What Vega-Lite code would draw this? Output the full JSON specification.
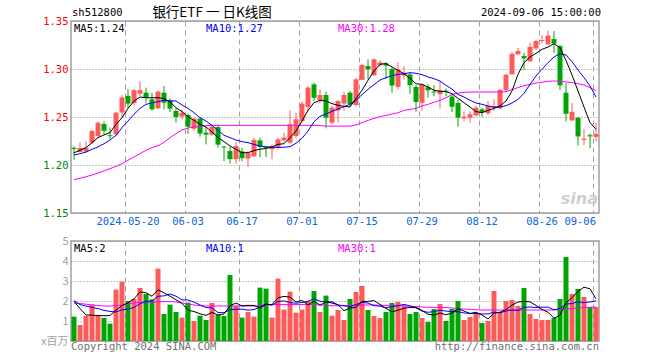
{
"$schema": "https://vega.github.io/schema/vega-lite/v6.json",
"background": "white",
"padding": {"left": 39, "top": 5, "right": 5, "bottom": 2},
"spacing": 28,
"bounds": "flush",
"config": {
 "view": {"stroke": "#a0a0a0", "strokeWidth": 1.5},
 "axis": {"domain": false, "ticks": false, "title": null, "labelFont": "DejaVu Sans Mono", "labelFontSize": 10.5, "gridColor": "#a0a0a0", "gridWidth": 1, "labelOverlap": false},
 "text": {"font": "DejaVu Sans Mono", "fontSize": 10.5}
},
"datasets": {"k": [
{"d":"2024-05-07","o":1.2178,"h":1.2195,"l":1.2055,"c":1.2166,"m5":1.2128,"m10":1.2104,"m30":1.1847,"v":1.22,"v5":1.98,"v10":2.02,"v30":1.90},
{"d":"2024-05-08","o":1.2135,"h":1.2236,"l":1.2132,"c":1.2177,"m5":1.2153,"m10":1.2118,"m30":1.1861,"v":0.80,"v5":1.62,"v10":1.82,"v30":1.87},
{"d":"2024-05-09","o":1.2140,"h":1.2245,"l":1.2125,"c":1.2178,"m5":1.2181,"m10":1.2135,"m30":1.1878,"v":1.25,"v5":1.30,"v10":1.75,"v30":1.84},
{"d":"2024-05-10","o":1.2233,"h":1.2365,"l":1.2218,"c":1.2354,"m5":1.2233,"m10":1.2163,"m30":1.1896,"v":1.83,"v5":1.29,"v10":1.68,"v30":1.80},
{"d":"2024-05-13","o":1.2302,"h":1.2452,"l":1.2283,"c":1.2440,"m5":1.2285,"m10":1.2188,"m30":1.1917,"v":1.28,"v5":1.276,"v10":1.62,"v30":1.77},
{"d":"2024-05-14","o":1.2427,"h":1.2455,"l":1.2316,"c":1.2356,"m5":1.2313,"m10":1.2222,"m30":1.1938,"v":1.15,"v5":1.262,"v10":1.53,"v30":1.75},
{"d":"2024-05-15","o":1.2310,"h":1.2390,"l":1.2270,"c":1.2300,"m5":1.2337,"m10":1.2260,"m30":1.1962,"v":0.87,"v5":1.276,"v10":1.48,"v30":1.75},
{"d":"2024-05-16","o":1.2320,"h":1.2556,"l":1.2306,"c":1.2545,"m5":1.2424,"m10":1.2309,"m30":1.1986,"v":2.57,"v5":1.54,"v10":1.45,"v30":1.77},
{"d":"2024-05-17","o":1.2547,"h":1.2730,"l":1.2497,"c":1.2703,"m5":1.2493,"m10":1.2389,"m30":1.2014,"v":2.97,"v5":1.768,"v10":1.56,"v30":1.80},
{"d":"2024-05-20","o":1.2720,"h":1.2790,"l":1.2590,"c":1.2640,"m5":1.2590,"m10":1.2458,"m30":1.2049,"v":2.00,"v5":1.912,"v10":1.594,"v30":1.85},
{"d":"2024-05-21","o":1.2645,"h":1.2790,"l":1.2620,"c":1.2780,"m5":1.2667,"m10":1.2528,"m30":1.2083,"v":2.10,"v5":2.102,"v10":1.682,"v30":1.90},
{"d":"2024-05-22","o":1.2743,"h":1.2875,"l":1.2720,"c":1.2781,"m5":1.2708,"m10":1.2590,"m30":1.2118,"v":2.65,"v5":2.458,"v10":1.867,"v30":1.93},
{"d":"2024-05-23","o":1.2753,"h":1.2806,"l":1.2649,"c":1.2701,"m5":1.2701,"m10":1.2632,"m30":1.2153,"v":2.35,"v5":2.414,"v10":1.977,"v30":1.94},
{"d":"2024-05-24","o":1.2684,"h":1.2753,"l":1.2565,"c":1.2580,"m5":1.2701,"m10":1.2646,"m30":1.2181,"v":2.08,"v5":2.236,"v10":2.002,"v30":1.95},
{"d":"2024-05-27","o":1.2590,"h":1.2780,"l":1.2580,"c":1.2764,"m5":1.2701,"m10":1.2660,"m30":1.2201,"v":3.62,"v5":2.56,"v10":2.236,"v30":1.96},
{"d":"2024-05-28","o":1.2753,"h":1.2823,"l":1.2580,"c":1.2649,"m5":1.2691,"m10":1.2674,"m30":1.2236,"v":1.35,"v5":2.41,"v10":2.256,"v30":1.97},
{"d":"2024-05-29","o":1.2674,"h":1.2694,"l":1.2552,"c":1.2587,"m5":1.2656,"m10":1.2667,"m30":1.2285,"v":1.82,"v5":2.244,"v10":2.351,"v30":1.97},
{"d":"2024-05-30","o":1.2563,"h":1.2590,"l":1.2441,"c":1.2500,"m5":1.2597,"m10":1.2667,"m30":1.2326,"v":1.45,"v5":2.064,"v10":2.239,"v30":1.95},
{"d":"2024-05-31","o":1.2505,"h":1.2580,"l":1.2476,"c":1.2545,"m5":1.2556,"m10":1.2625,"m30":1.2365,"v":1.17,"v5":1.882,"v10":2.059,"v30":1.90},
{"d":"2024-06-03","o":1.2521,"h":1.2535,"l":1.2326,"c":1.2398,"m5":1.2503,"m10":1.2590,"m30":1.2385,"v":1.92,"v5":1.542,"v10":2.051,"v30":1.86},
{"d":"2024-06-04","o":1.2378,"h":1.2493,"l":1.2354,"c":1.2483,"m5":1.2465,"m10":1.2545,"m30":1.2396,"v":1.00,"v5":1.472,"v10":1.941,"v30":1.80},
{"d":"2024-06-05","o":1.2483,"h":1.2493,"l":1.2295,"c":1.2328,"m5":1.2424,"m10":1.2493,"m30":1.2403,"v":1.27,"v5":1.362,"v10":1.803,"v30":1.77},
{"d":"2024-06-06","o":1.2337,"h":1.2396,"l":1.2215,"c":1.2316,"m5":1.2396,"m10":1.2458,"m30":1.2410,"v":1.05,"v5":1.282,"v10":1.673,"v30":1.75},
{"d":"2024-06-07","o":1.2316,"h":1.2420,"l":1.2305,"c":1.2398,"m5":1.2344,"m10":1.2413,"m30":1.2413,"v":1.90,"v5":1.428,"v10":1.655,"v30":1.75},
{"d":"2024-06-11","o":1.2395,"h":1.2420,"l":1.2181,"c":1.2212,"m5":1.2285,"m10":1.2361,"m30":1.2413,"v":1.30,"v5":1.304,"v10":1.423,"v30":1.75},
{"d":"2024-06-12","o":1.2192,"h":1.2198,"l":1.2042,"c":1.2182,"m5":1.2243,"m10":1.2309,"m30":1.2413,"v":1.25,"v5":1.354,"v10":1.413,"v30":1.75},
{"d":"2024-06-13","o":1.2146,"h":1.2188,"l":1.2014,"c":1.2062,"m5":1.2198,"m10":1.2285,"m30":1.2413,"v":3.30,"v5":1.76,"v10":1.561,"v30":1.75},
{"d":"2024-06-14","o":1.2062,"h":1.2240,"l":1.2014,"c":1.2198,"m5":1.2163,"m10":1.2260,"m30":1.2413,"v":1.75,"v5":1.90,"v10":1.591,"v30":1.75},
{"d":"2024-06-17","o":1.2142,"h":1.2180,"l":1.2040,"c":1.2072,"m5":1.2128,"m10":1.2243,"m30":1.2413,"v":1.17,"v5":1.754,"v10":1.591,"v30":1.75},
{"d":"2024-06-18","o":1.2068,"h":1.2146,"l":1.1980,"c":1.2122,"m5":1.2128,"m10":1.2233,"m30":1.2413,"v":1.45,"v5":1.784,"v10":1.544,"v30":1.75},
{"d":"2024-06-19","o":1.2092,"h":1.2285,"l":1.2080,"c":1.2262,"m5":1.2150,"m10":1.2215,"m30":1.2413,"v":1.22,"v5":1.778,"v10":1.566,"v30":1.75},
{"d":"2024-06-20","o":1.2257,"h":1.2285,"l":1.2083,"c":1.2188,"m5":1.2165,"m10":1.2198,"m30":1.2413,"v":2.67,"v5":1.652,"v10":1.706,"v30":1.75},
{"d":"2024-06-21","o":1.2186,"h":1.2198,"l":1.2083,"c":1.2176,"m5":1.2172,"m10":1.2190,"m30":1.2413,"v":2.62,"v5":1.826,"v10":1.863,"v30":1.78},
{"d":"2024-06-24","o":1.2163,"h":1.2215,"l":1.2059,"c":1.2198,"m5":1.2188,"m10":1.2185,"m30":1.2413,"v":1.17,"v5":1.826,"v10":1.79,"v30":1.82},
{"d":"2024-06-25","o":1.2188,"h":1.2285,"l":1.2163,"c":1.2267,"m5":1.2215,"m10":1.2183,"m30":1.2413,"v":3.12,"v5":2.16,"v10":1.972,"v30":1.82},
{"d":"2024-06-26","o":1.2257,"h":1.2337,"l":1.2233,"c":1.2285,"m5":1.2222,"m10":1.2185,"m30":1.2413,"v":1.57,"v5":2.23,"v10":2.004,"v30":1.82},
{"d":"2024-06-27","o":1.2233,"h":1.2569,"l":1.2222,"c":1.2424,"m5":1.2285,"m10":1.2191,"m30":1.2413,"v":2.47,"v5":2.19,"v10":1.921,"v30":1.82},
{"d":"2024-06-28","o":1.2302,"h":1.2545,"l":1.2278,"c":1.2476,"m5":1.2354,"m10":1.2226,"m30":1.2413,"v":1.42,"v5":1.95,"v10":1.888,"v30":1.82},
{"d":"2024-07-01","o":1.2458,"h":1.2660,"l":1.2441,"c":1.2639,"m5":1.2458,"m10":1.2278,"m30":1.2413,"v":1.57,"v5":2.03,"v10":1.928,"v30":1.82},
{"d":"2024-07-02","o":1.2604,"h":1.2823,"l":1.2563,"c":1.2806,"m5":1.2569,"m10":1.2354,"m30":1.2413,"v":2.00,"v5":1.806,"v10":1.983,"v30":1.82},
{"d":"2024-07-03","o":1.2840,"h":1.2858,"l":1.2667,"c":1.2701,"m5":1.2649,"m10":1.2451,"m30":1.2413,"v":2.50,"v5":1.992,"v10":2.111,"v30":1.82},
{"d":"2024-07-04","o":1.2674,"h":1.2788,"l":1.2649,"c":1.2729,"m5":1.2674,"m10":1.2507,"m30":1.2410,"v":1.45,"v5":1.788,"v10":1.989,"v30":1.80},
{"d":"2024-07-05","o":1.2729,"h":1.2760,"l":1.2382,"c":1.2493,"m5":1.2667,"m10":1.2531,"m30":1.2405,"v":2.27,"v5":1.958,"v10":1.954,"v30":1.78},
{"d":"2024-07-08","o":1.2441,"h":1.2615,"l":1.2424,"c":1.2597,"m5":1.2639,"m10":1.2559,"m30":1.2405,"v":1.27,"v5":1.898,"v10":1.964,"v30":1.76},
{"d":"2024-07-09","o":1.2569,"h":1.2674,"l":1.2441,"c":1.2667,"m5":1.2622,"m10":1.2583,"m30":1.2405,"v":1.55,"v5":1.808,"v10":1.807,"v30":1.76},
{"d":"2024-07-10","o":1.2640,"h":1.2764,"l":1.2563,"c":1.2729,"m5":1.2611,"m10":1.2608,"m30":1.2405,"v":1.05,"v5":1.518,"v10":1.755,"v30":1.77},
{"d":"2024-07-11","o":1.2753,"h":1.2771,"l":1.2604,"c":1.2636,"m5":1.2604,"m10":1.2632,"m30":1.2405,"v":2.10,"v5":1.648,"v10":1.718,"v30":1.78},
{"d":"2024-07-12","o":1.2625,"h":1.2910,"l":1.2615,"c":1.2892,"m5":1.2694,"m10":1.2674,"m30":1.2417,"v":2.45,"v5":1.684,"v10":1.821,"v30":1.79},
{"d":"2024-07-15","o":1.2887,"h":1.3056,"l":1.2882,"c":1.3042,"m5":1.2778,"m10":1.2733,"m30":1.2441,"v":2.75,"v5":1.98,"v10":1.939,"v30":1.80},
{"d":"2024-07-16","o":1.3031,"h":1.3100,"l":1.2892,"c":1.2997,"m5":1.2882,"m10":1.2788,"m30":1.2465,"v":1.55,"v5":1.98,"v10":1.894,"v30":1.80},
{"d":"2024-07-17","o":1.2935,"h":1.3110,"l":1.2927,"c":1.3101,"m5":1.2979,"m10":1.2837,"m30":1.2486,"v":1.25,"v5":2.02,"v10":1.769,"v30":1.80},
{"d":"2024-07-18","o":1.3040,"h":1.3090,"l":1.3021,"c":1.3068,"m5":1.3049,"m10":1.2885,"m30":1.2503,"v":1.15,"v5":1.83,"v10":1.739,"v30":1.79},
{"d":"2024-07-19","o":1.3059,"h":1.3070,"l":1.2895,"c":1.3035,"m5":1.3056,"m10":1.2910,"m30":1.2517,"v":1.45,"v5":1.63,"v10":1.657,"v30":1.78},
{"d":"2024-07-22","o":1.3000,"h":1.3014,"l":1.2753,"c":1.2828,"m5":1.3021,"m10":1.2931,"m30":1.2531,"v":1.90,"v5":1.46,"v10":1.72,"v30":1.78},
{"d":"2024-07-23","o":1.2813,"h":1.3070,"l":1.2790,"c":1.2997,"m5":1.2986,"m10":1.2944,"m30":1.2545,"v":1.95,"v5":1.54,"v10":1.76,"v30":1.78},
{"d":"2024-07-24","o":1.2932,"h":1.3030,"l":1.2890,"c":1.2960,"m5":1.2951,"m10":1.2951,"m30":1.2569,"v":1.75,"v5":1.64,"v10":1.83,"v30":1.76},
{"d":"2024-07-25","o":1.2944,"h":1.2962,"l":1.2740,"c":1.2833,"m5":1.2903,"m10":1.2962,"m30":1.2580,"v":1.35,"v5":1.68,"v10":1.755,"v30":1.74},
{"d":"2024-07-26","o":1.2813,"h":1.2833,"l":1.2554,"c":1.2656,"m5":1.2847,"m10":1.2955,"m30":1.2590,"v":1.45,"v5":1.68,"v10":1.655,"v30":1.72},
{"d":"2024-07-29","o":1.2649,"h":1.2847,"l":1.2565,"c":1.2836,"m5":1.2840,"m10":1.2941,"m30":1.2615,"v":1.15,"v5":1.53,"v10":1.495,"v30":1.70},
{"d":"2024-07-30","o":1.2810,"h":1.2840,"l":1.2700,"c":1.2778,"m5":1.2813,"m10":1.2917,"m30":1.2632,"v":0.95,"v5":1.33,"v10":1.435,"v30":1.69},
{"d":"2024-07-31","o":1.2765,"h":1.2830,"l":1.2715,"c":1.2755,"m5":1.2778,"m10":1.2899,"m30":1.2653,"v":1.60,"v5":1.30,"v10":1.47,"v30":1.68},
{"d":"2024-08-01","o":1.2738,"h":1.2875,"l":1.2587,"c":1.2778,"m5":1.2768,"m10":1.2875,"m30":1.2674,"v":1.85,"v5":1.40,"v10":1.54,"v30":1.67},
{"d":"2024-08-02","o":1.2775,"h":1.2797,"l":1.2715,"c":1.2765,"m5":1.2764,"m10":1.2830,"m30":1.2700,"v":1.00,"v5":1.31,"v10":1.495,"v30":1.67},
{"d":"2024-08-05","o":1.2712,"h":1.2736,"l":1.2552,"c":1.2606,"m5":1.2743,"m10":1.2790,"m30":1.2735,"v":1.60,"v5":1.40,"v10":1.465,"v30":1.65},
{"d":"2024-08-06","o":1.2646,"h":1.2677,"l":1.2399,"c":1.2493,"m5":1.2694,"m10":1.2736,"m30":1.2750,"v":2.00,"v5":1.61,"v10":1.47,"v30":1.62},
{"d":"2024-08-07","o":1.2485,"h":1.2560,"l":1.2455,"c":1.2503,"m5":1.2649,"m10":1.2708,"m30":1.2757,"v":1.05,"v5":1.50,"v10":1.40,"v30":1.60},
{"d":"2024-08-08","o":1.2493,"h":1.2560,"l":1.2440,"c":1.2528,"m5":1.2604,"m10":1.2674,"m30":1.2760,"v":1.20,"v5":1.37,"v10":1.385,"v30":1.58},
{"d":"2024-08-09","o":1.2517,"h":1.2615,"l":1.2505,"c":1.2597,"m5":1.2556,"m10":1.2646,"m30":1.2760,"v":1.35,"v5":1.44,"v10":1.375,"v30":1.56},
{"d":"2024-08-12","o":1.2580,"h":1.2597,"l":1.2500,"c":1.2552,"m5":1.2545,"m10":1.2632,"m30":1.2760,"v":0.90,"v5":1.30,"v10":1.35,"v30":1.55},
{"d":"2024-08-13","o":1.2540,"h":1.2667,"l":1.2520,"c":1.2615,"m5":1.2569,"m10":1.2615,"m30":1.2760,"v":1.00,"v5":1.10,"v10":1.355,"v30":1.55},
{"d":"2024-08-14","o":1.2592,"h":1.2684,"l":1.2563,"c":1.2612,"m5":1.2590,"m10":1.2604,"m30":1.2760,"v":2.50,"v5":1.39,"v10":1.445,"v30":1.55},
{"d":"2024-08-15","o":1.2590,"h":1.2790,"l":1.2580,"c":1.2783,"m5":1.2615,"m10":1.2604,"m30":1.2760,"v":1.45,"v5":1.44,"v10":1.405,"v30":1.55},
{"d":"2024-08-16","o":1.2780,"h":1.2955,"l":1.2770,"c":1.2940,"m5":1.2667,"m10":1.2618,"m30":1.2764,"v":2.00,"v5":1.57,"v10":1.505,"v30":1.55},
{"d":"2024-08-19","o":1.2944,"h":1.3175,"l":1.2944,"c":1.3158,"m5":1.2771,"m10":1.2646,"m30":1.2785,"v":2.05,"v5":1.80,"v10":1.55,"v30":1.55},
{"d":"2024-08-20","o":1.3153,"h":1.3220,"l":1.3143,"c":1.3188,"m5":1.2944,"m10":1.2684,"m30":1.2806,"v":1.75,"v5":1.95,"v10":1.525,"v30":1.55},
{"d":"2024-08-21","o":1.3135,"h":1.3170,"l":1.2990,"c":1.3110,"m5":1.3066,"m10":1.2747,"m30":1.2826,"v":2.65,"v5":1.98,"v10":1.685,"v30":1.55},
{"d":"2024-08-22","o":1.3080,"h":1.3274,"l":1.3073,"c":1.3231,"m5":1.3125,"m10":1.2840,"m30":1.2840,"v":1.35,"v5":1.96,"v10":1.70,"v30":1.55},
{"d":"2024-08-23","o":1.3214,"h":1.3305,"l":1.3200,"c":1.3292,"m5":1.3163,"m10":1.2927,"m30":1.2854,"v":1.10,"v5":1.78,"v10":1.675,"v30":1.55},
{"d":"2024-08-26","o":1.3292,"h":1.3351,"l":1.3267,"c":1.3302,"m5":1.3205,"m10":1.2997,"m30":1.2861,"v":1.05,"v5":1.58,"v10":1.69,"v30":1.55},
{"d":"2024-08-27","o":1.3257,"h":1.3400,"l":1.3250,"c":1.3348,"m5":1.3229,"m10":1.3066,"m30":1.2872,"v":1.05,"v5":1.44,"v10":1.695,"v30":1.55},
{"d":"2024-08-28","o":1.3312,"h":1.3395,"l":1.3170,"c":1.3265,"m5":1.3264,"m10":1.3125,"m30":1.2875,"v":1.15,"v5":1.14,"v10":1.56,"v30":1.55},
{"d":"2024-08-29","o":1.3240,"h":1.3247,"l":1.2781,"c":1.2830,"m5":1.3222,"m10":1.3160,"m30":1.2872,"v":2.10,"v5":1.29,"v10":1.625,"v30":1.57},
{"d":"2024-08-30","o":1.2753,"h":1.2851,"l":1.2453,"c":1.2533,"m5":1.3090,"m10":1.3146,"m30":1.2865,"v":4.20,"v5":1.91,"v10":1.845,"v30":1.60},
{"d":"2024-09-02","o":1.2465,"h":1.2646,"l":1.2458,"c":1.2554,"m5":1.2938,"m10":1.3076,"m30":1.2858,"v":2.35,"v5":2.17,"v10":1.875,"v30":1.62},
{"d":"2024-09-03","o":1.2493,"h":1.2500,"l":1.2203,"c":1.2297,"m5":1.2771,"m10":1.2990,"m30":1.2847,"v":2.60,"v5":2.48,"v10":1.96,"v30":1.65},
{"d":"2024-09-04","o":1.2262,"h":1.2371,"l":1.2206,"c":1.2274,"m5":1.2604,"m10":1.2910,"m30":1.2833,"v":2.20,"v5":2.69,"v10":1.915,"v30":1.67},
{"d":"2024-09-05","o":1.2310,"h":1.2328,"l":1.2175,"c":1.2298,"m5":1.2441,"m10":1.2823,"m30":1.2806,"v":1.70,"v5":2.61,"v10":1.95,"v30":1.69},
{"d":"2024-09-06","o":1.2293,"h":1.2435,"l":1.2247,"c":1.2323,"m5":1.2372,"m10":1.2708,"m30":1.2771,"v":1.70,"v5":2.11,"v10":2.01,"v30":1.70}
]},
"vconcat": [
{
 "width": 528, "height": 192,
 "data": {"name": "k"},
 "resolve": {"axis": {"x": "independent", "y": "independent"}},
 "layer": [
  {"mark": {"type": "rule", "strokeWidth": 1},
   "encoding": {
    "x": {"field": "d", "type": "ordinal", "scale": {"paddingInner": 0, "paddingOuter": 0},
     "axis": {"title": null, "values": ["2024-05-20","2024-06-03","2024-06-17","2024-07-01","2024-07-15","2024-07-29","2024-08-12","2024-08-26","2024-09-06"], "bandPosition": 0, "grid": true, "gridDash": [5,4], "labelAngle": 0, "labelPadding": 3, "labelColor": "#0a64e6",
       "labelAlign": {"condition": {"test": "datum.value == '2024-09-06'", "value": "right"}, "value": "center"},
       "labelExpr": "datum.value == '2024-05-20' ? datum.value : substring(datum.value, 5)"}},
    "y": {"field": "l", "type": "quantitative", "scale": {"domain": [1.15, 1.35], "zero": false, "nice": false},
      "axis": {"title": null, "values": [1.15, 1.2, 1.25, 1.3, 1.35], "format": ".2f", "grid": true, "gridDash": [1,2], "gridColor": "#909090", "labelPadding": 3,
        "labelColor": {"condition": {"test": "datum.value >= 1.25", "value": "#ff0000"}, "value": "#008000"}}},
    "y2": {"field": "h"},
    "color": {"condition": {"test": "datum.c >= datum.o", "value": "#ff5a5a"}, "value": "#00a600"}}},
  {"mark": {"type": "bar", "size": 5},
   "encoding": {
    "x": {"field": "d", "type": "ordinal", "axis": null},
    "y": {"field": "o", "type": "quantitative", "axis": null},
    "y2": {"field": "c"},
    "color": {"condition": {"test": "datum.c >= datum.o", "value": "#ff5a5a"}, "value": "#00a600"}}},
  {"mark": {"type": "line", "strokeWidth": 1, "color": "#ff00ff"},
   "encoding": {"x": {"field": "d", "type": "ordinal", "axis": null}, "y": {"field": "m30", "type": "quantitative", "axis": null}}},
  {"mark": {"type": "line", "strokeWidth": 1, "color": "#0000ff"},
   "encoding": {"x": {"field": "d", "type": "ordinal", "axis": null}, "y": {"field": "m10", "type": "quantitative", "axis": null}}},
  {"mark": {"type": "line", "strokeWidth": 1, "color": "#000000"},
   "encoding": {"x": {"field": "d", "type": "ordinal", "axis": null}, "y": {"field": "m5", "type": "quantitative", "axis": null}}},
  {"data": {"values": [{"d": "2024-05-07", "s": "MA5", "t": "MA5:1.24"}, {"d": "2024-06-06", "s": "MA10", "t": "MA10:1.27"}, {"d": "2024-07-09", "s": "MA30", "t": "MA30:1.28"}]},
   "mark": {"type": "text", "align": "left", "baseline": "top", "dx": 3, "dy": 3},
   "encoding": {
    "x": {"field": "d", "type": "ordinal", "bandPosition": 0, "axis": null},
    "y": {"datum": 1.35, "type": "quantitative", "axis": null},
    "text": {"field": "t"},
    "color": {"field": "s", "type": "nominal", "scale": {"domain": ["MA5", "MA10", "MA30"], "range": ["#000000", "#0000ff", "#ff00ff"]}, "legend": null}}},
  {"data": {"values": [{"d": "2024-05-07", "t": "sh512800"}]},
   "mark": {"type": "text", "align": "left", "baseline": "middle", "dx": 1, "dy": -8, "color": "#000000"},
   "encoding": {"x": {"field": "d", "type": "ordinal", "bandPosition": 0, "axis": null}, "y": {"datum": 1.35, "type": "quantitative", "axis": null}, "text": {"field": "t"}}},
  {"data": {"values": [{"d": "2024-06-07", "t": "银行ETF 一 日K线图"}]},
   "mark": {"type": "text", "align": "center", "baseline": "middle", "dy": -8, "font": "Noto Sans CJK SC", "fontSize": 13.5, "color": "#000000"},
   "encoding": {"x": {"field": "d", "type": "ordinal", "axis": null}, "y": {"datum": 1.35, "type": "quantitative", "axis": null}, "text": {"field": "t"}}},
  {"data": {"values": [{"d": "2024-09-06", "t": "2024-09-06 15:00:00"}]},
   "mark": {"type": "text", "align": "right", "baseline": "middle", "dx": 2, "dy": -8, "color": "#000000"},
   "encoding": {"x": {"field": "d", "type": "ordinal", "bandPosition": 1, "axis": null}, "y": {"datum": 1.35, "type": "quantitative", "axis": null}, "text": {"field": "t"}}},
  {"data": {"values": [{"d": "2024-09-06", "t": "sina"}]},
   "mark": {"type": "text", "align": "right", "baseline": "bottom", "dx": -1, "font": "DejaVu Sans", "fontSize": 16, "fontStyle": "italic", "fontWeight": "bold", "color": "#cfcfcf"},
   "encoding": {"x": {"field": "d", "type": "ordinal", "bandPosition": 1, "axis": null}, "y": {"datum": 1.156, "type": "quantitative", "axis": null}, "text": {"field": "t"}}}
 ]
},
{
 "width": 528, "height": 100,
 "data": {"name": "k"},
 "resolve": {"axis": {"x": "independent", "y": "independent"}},
 "layer": [
  {"mark": {"type": "bar", "size": 5},
   "encoding": {
    "x": {"field": "d", "type": "ordinal", "scale": {"paddingInner": 0, "paddingOuter": 0},
     "axis": {"title": null, "values": ["2024-05-20","2024-06-03","2024-06-17","2024-07-01","2024-07-15","2024-07-29","2024-08-12","2024-08-26","2024-09-06"], "bandPosition": 0, "grid": true, "gridDash": [5,4], "labels": false}},
    "y": {"field": "v", "type": "quantitative", "scale": {"domain": [0, 5], "nice": false},
      "axis": {"title": null, "values": [0, 1, 2, 3, 4, 5], "grid": true, "gridDash": [1,2], "gridColor": "#909090", "labelPadding": 3, "labelColor": "#a0a0a0", "labelFont": "Noto Sans CJK SC", "labelFontSize": 11, "labelOverlap": false, "labelBound": false,
        "labelExpr": "datum.value == 0 ? 'x百万' : datum.label"}},
    "color": {"condition": {"test": "datum.c >= datum.o", "value": "#ff5a5a"}, "value": "#00a600"}}},
  {"mark": {"type": "line", "strokeWidth": 1, "color": "#ff00ff"},
   "encoding": {"x": {"field": "d", "type": "ordinal", "axis": null}, "y": {"field": "v30", "type": "quantitative", "axis": null}}},
  {"mark": {"type": "line", "strokeWidth": 1, "color": "#0000ff"},
   "encoding": {"x": {"field": "d", "type": "ordinal", "axis": null}, "y": {"field": "v10", "type": "quantitative", "axis": null}}},
  {"mark": {"type": "line", "strokeWidth": 1, "color": "#000000"},
   "encoding": {"x": {"field": "d", "type": "ordinal", "axis": null}, "y": {"field": "v5", "type": "quantitative", "axis": null}}},
  {"data": {"values": [{"d": "2024-05-07", "s": "MA5", "t": "MA5:2"}, {"d": "2024-06-06", "s": "MA10", "t": "MA10:1"}, {"d": "2024-07-09", "s": "MA30", "t": "MA30:1"}]},
   "mark": {"type": "text", "align": "left", "baseline": "top", "dx": 3, "dy": 3},
   "encoding": {
    "x": {"field": "d", "type": "ordinal", "bandPosition": 0, "axis": null},
    "y": {"datum": 5, "type": "quantitative", "axis": null},
    "text": {"field": "t"},
    "color": {"field": "s", "type": "nominal", "scale": {"domain": ["MA5", "MA10", "MA30"], "range": ["#000000", "#0000ff", "#ff00ff"]}, "legend": null}}},
  {"data": {"values": [{"d": "2024-05-07", "t": "Copyright 2024 SINA.COM"}]},
   "mark": {"type": "text", "align": "left", "baseline": "top", "dy": 1, "color": "#707070"},
   "encoding": {"x": {"field": "d", "type": "ordinal", "bandPosition": 0, "axis": null}, "y": {"datum": 0, "type": "quantitative", "axis": null}, "text": {"field": "t"}}},
  {"data": {"values": [{"d": "2024-09-06", "t": "http://finance.sina.com.cn"}]},
   "mark": {"type": "text", "align": "right", "baseline": "top", "dy": 1, "color": "#707070"},
   "encoding": {"x": {"field": "d", "type": "ordinal", "bandPosition": 1, "axis": null}, "y": {"datum": 0, "type": "quantitative", "axis": null}, "text": {"field": "t"}}}
 ]
}
]
}
